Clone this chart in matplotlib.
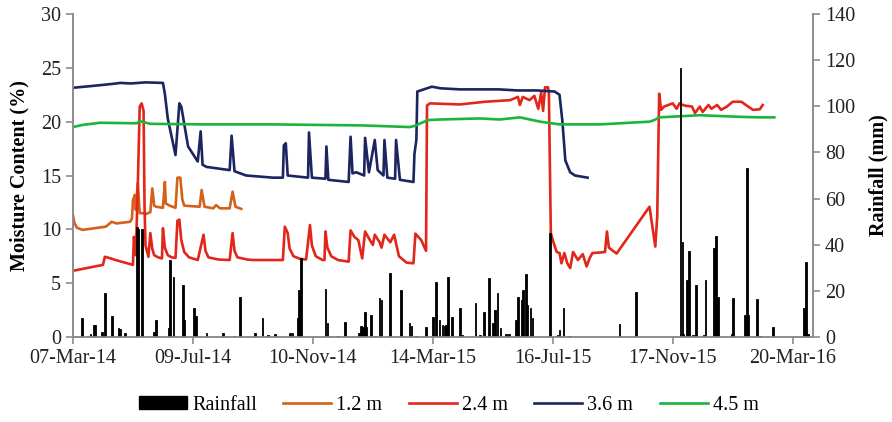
import matplotlib
matplotlib.use("Agg")
import matplotlib.pyplot as plt
import matplotlib.dates as mdates
from matplotlib.patches import Patch
from matplotlib.lines import Line2D
import pandas as pd

start = pd.Timestamp("2014-03-07")

# day offsets from 07-Mar-14
rain_day = [9, 18, 22, 23, 30, 33, 40, 47, 49, 54, 66, 67, 71, 72, 84, 86, 99, 100, 104,
            114, 115, 125, 127, 138, 155, 167, 173, 188, 196, 202, 209, 224, 227, 232, 234,
            236, 261, 263, 274, 281, 296, 298, 300, 302, 303, 308, 312, 317, 319, 328, 339,
            348, 350, 355, 365, 372, 375, 379, 382, 384, 386, 388, 392, 400, 402, 416, 421,
            425, 430, 434, 436, 439, 442, 448, 451, 458, 460, 464, 465, 468, 470, 473, 475,
            493, 501, 503, 507, 514, 565, 582, 628, 630, 631, 635, 637, 641, 644, 652, 654,
            663, 665, 667, 681, 682, 695, 697, 698, 707, 710, 724, 756, 758, 760]
rain_mm = [8.1, 1.5, 5.2, 5.2, 2.0, 18.9, 9.1, 3.8, 3.3, 1.9, 47.8, 47.0, 46.7, 0.9, 2.3,
           7.4, 3.8, 33.4, 25.9, 22.5, 7.4, 12.4, 9.1, 1.6, 1.6, 0.4, 17.2, 1.6, 8.1, 0.9,
           1.2, 1.6, 1.9, 8.1, 20.4, 34.1, 20.7, 5.9, 0.5, 6.6, 1.6, 4.8, 4.5, 11.0, 4.5,
           9.5, 0.5, 16.8, 16.0, 27.6, 20.4, 5.9, 4.8, 0.4, 4.5, 8.8, 24.0, 7.4, 5.2, 4.8,
           5.2, 25.9, 8.8, 12.4, 0.9, 14.6, 1.0, 11.0, 25.4, 5.9, 11.7, 18.9, 3.8, 1.2, 1.2,
           7.4, 17.5, 16.0, 20.5, 27.3, 13.9, 12.4, 8.1, 44.9, 1.0, 3.0, 12.4, 0.5, 5.5,
           19.4, 116.5, 41.3, 1.5, 24.7, 37.3, 1.0, 22.5, 1.0, 24.7, 38.4, 43.9, 17.5, 1.2,
           17.0, 9.5, 73.1, 9.5, 16.3, 0.5, 4.5, 12.4, 32.6, 1.5]

m12_day = [0, 1.5, 4, 10, 34, 40, 45, 59, 61, 62, 64, 65, 67, 69, 73, 75, 80, 82, 84, 86,
           93, 95, 96, 100, 106, 108, 111, 113, 115, 131, 133, 136, 145, 148, 152, 162,
           165, 168, 174]
m12_val = [11.3, 10.6, 10.15, 9.95, 10.25, 10.7, 10.55, 10.7, 11.0, 12.7, 13.2, 11.8, 14.3,
           11.5, 11.5, 11.4, 11.6, 13.8, 12.2, 12.1, 12.0, 14.4, 12.4, 12.2, 12.0, 14.8,
           14.8, 12.8, 12.2, 12.1, 13.65, 12.1, 11.95, 12.25, 11.95, 11.95, 13.5, 12.1,
           11.9]

m24_day = [0, 31, 33, 39, 44, 62, 63, 65, 67, 69, 71, 73, 74, 75, 78, 80, 82, 84, 88, 92,
           93, 95, 98, 102, 106, 108, 110, 112, 115, 120, 129, 135, 137, 140, 150, 162, 165,
           167, 170, 180, 186, 217, 219, 222, 224, 228, 235, 241, 245, 247, 251, 258, 260,
           261, 263, 267, 274, 285, 287, 291, 295, 299, 302, 306, 310, 312, 317, 319, 322,
           328, 332, 337, 345, 352, 354, 360, 365, 366, 369, 400, 426, 452, 460, 462, 465,
           472, 477, 481, 484, 486, 488, 491, 492, 494, 496, 500, 503, 505, 508, 511, 514,
           517, 522, 527, 531, 534, 537, 545, 550, 552, 554, 562, 596, 599, 602, 604, 605,
           606, 608, 611, 620, 624, 627, 632, 640, 643, 648, 651, 657, 660, 666, 670, 676,
           682, 691, 698, 703, 710, 713]
m24_val = [6.15, 6.7, 7.45, 7.3, 7.15, 6.7, 9.3, 7.6, 14.0, 21.4, 21.7, 21.0, 12.0, 8.5,
           7.45, 9.65, 8.2, 7.6, 7.4, 7.3, 10.1, 8.3, 7.6, 7.4, 7.35, 10.8, 10.9, 9.0, 7.9,
           7.4, 7.15, 9.5, 8.0, 7.4, 7.2, 7.15, 9.65, 8.0, 7.4, 7.2, 7.15, 7.15, 10.25, 9.65,
           8.2, 7.5, 7.25, 7.2, 10.4, 8.5, 7.5, 7.15, 7.15, 9.8, 8.3, 7.5, 7.15, 7.0, 9.9,
           9.3, 9.0, 7.3, 9.8, 9.15, 8.55, 9.5, 8.8, 8.3, 9.5, 8.8, 9.5, 7.5, 6.9, 6.85, 9.6,
           9.0, 8.0, 21.5, 21.7, 21.6, 21.85, 22.0, 22.3, 21.55, 22.3, 22.0, 22.4, 21.2,
           22.7, 21.0, 23.2, 23.2, 22.6, 9.65, 9.0, 7.9, 7.8, 6.85, 7.8, 6.85, 6.4, 7.9,
           7.15, 7.7, 6.55, 7.3, 7.8, 7.85, 7.9, 9.8, 8.3, 7.75, 12.1, 10.25, 8.4, 11.2,
           17.0, 22.6, 21.1, 21.4, 21.7, 21.2, 21.7, 21.5, 21.4, 20.8, 21.4, 20.9, 21.55,
           21.2, 21.55, 21.1, 21.4, 21.85, 21.85, 21.4, 21.1, 21.15, 21.55]

m36_day = [0, 18, 40, 49, 60, 75, 93, 95, 98, 106, 110, 112, 119, 129, 132, 134, 138, 162,
           164, 167, 179, 207, 217, 218, 220, 222, 243, 244, 247, 261, 262, 264, 285, 287,
           289, 293, 301, 302, 306, 312, 315, 321, 322, 325, 333, 334, 338, 352, 353, 355,
           356, 361, 371, 380, 400, 420, 440, 460, 480, 498, 503, 506, 509, 514, 519, 532]
m36_val = [23.15, 23.3, 23.5, 23.6, 23.55, 23.65, 23.6, 22.6, 20.3, 16.9, 21.7, 21.4, 17.7,
           16.3, 19.1, 16.0, 15.8, 15.5, 18.7, 15.4, 15.0, 14.8, 14.8, 17.8, 18.0, 15.0,
           14.8, 19.0, 14.8, 14.7, 17.7, 14.6, 14.4, 18.6, 15.2, 15.3, 15.0, 18.5, 15.3,
           18.3, 15.5, 15.0, 18.3, 14.8, 14.7, 18.3, 14.6, 14.4, 17.0, 18.3, 22.8, 22.95,
           23.25, 23.1, 23.0, 23.0, 23.0, 22.9, 22.9, 22.8, 22.5, 20.0, 16.4, 15.3, 15.0, 14.8]

m45_day = [0, 10, 28, 66, 69, 80, 131, 204, 300, 348, 353, 367, 379, 421, 441, 462, 483,
           503, 545, 596, 601, 606, 627, 648, 689, 710, 725]
m45_val = [19.5, 19.7, 19.9, 19.85, 20.05, 19.8, 19.75, 19.75, 19.65, 19.5, 19.6, 20.15,
           20.2, 20.3, 20.2, 20.4, 20.0, 19.75, 19.75, 20.0, 20.15, 20.4, 20.5, 20.6, 20.45,
           20.4, 20.4]


def to_dates(days):
    return start + pd.to_timedelta(days, unit="D")


plt.rcParams["font.family"] = ["Liberation Serif", "DejaVu Serif"]
plt.rcParams["font.size"] = 14

fig = plt.figure(figsize=(8.92, 4.22), dpi=100)
ax = fig.add_axes([0.0818, 0.2014, 0.8296, 0.7654])
ax2 = ax.twinx()

c12, c24, c36, c45 = "#D4601C", "#E2261A", "#1C2560", "#1CB53C"
lw = 1.9
ax.plot(to_dates(m12_day), m12_val, color=c12, lw=lw)
ax.plot(to_dates(m24_day), m24_val, color=c24, lw=lw)
ax.plot(to_dates(m36_day), m36_val, color=c36, lw=lw)
ax.plot(to_dates(m45_day), m45_val, color=c45, lw=lw)

ax2.bar(to_dates(rain_day), rain_mm, width=1.8, color="black", edgecolor="black",
        linewidth=0.6)

ax.set_ylim(0, 30)
ax.set_yticks(range(0, 31, 5))
ax2.set_ylim(0, 140)
ax2.set_yticks(range(0, 141, 20))

ticks = [start + pd.Timedelta(days=124 * k) for k in range(7)]
ax.set_xlim(start, start + pd.Timedelta(days=765))
ax.set_xticks(ticks)
ax.xaxis.set_major_formatter(mdates.DateFormatter("%d-%b-%y"))

grey = "#8C8C8C"
for a in (ax, ax2):
    a.spines["top"].set_visible(False)
    for s in ("left", "right", "bottom"):
        a.spines[s].set_color(grey)
        a.spines[s].set_linewidth(1.2)
    a.tick_params(colors=grey, labelcolor="#222222", length=5, width=1.2, direction="out")
    a.tick_params(axis="both", labelsize=14.5)

ax.set_ylabel("Moisture Content (%)", fontweight="bold", fontsize=14.5, labelpad=8)
ax2.set_ylabel("Rainfall (mm)", fontweight="bold", fontsize=14.5, labelpad=10)

handles = [Patch(color="black"),
           Line2D([], [], color=c12, lw=lw),
           Line2D([], [], color=c24, lw=lw),
           Line2D([], [], color=c36, lw=lw),
           Line2D([], [], color=c45, lw=lw)]
labels = ["Rainfall", "1.2 m", "2.4 m", "3.6 m", "4.5 m"]
fig.legend(handles, labels, loc="center", bbox_to_anchor=(0.503, 0.04), ncol=5,
           frameon=False, fontsize=14.5, handlelength=2.4, handletextpad=0.25,
           columnspacing=1.3, handleheight=0.6)

fig.savefig("out.png", dpi=100)
